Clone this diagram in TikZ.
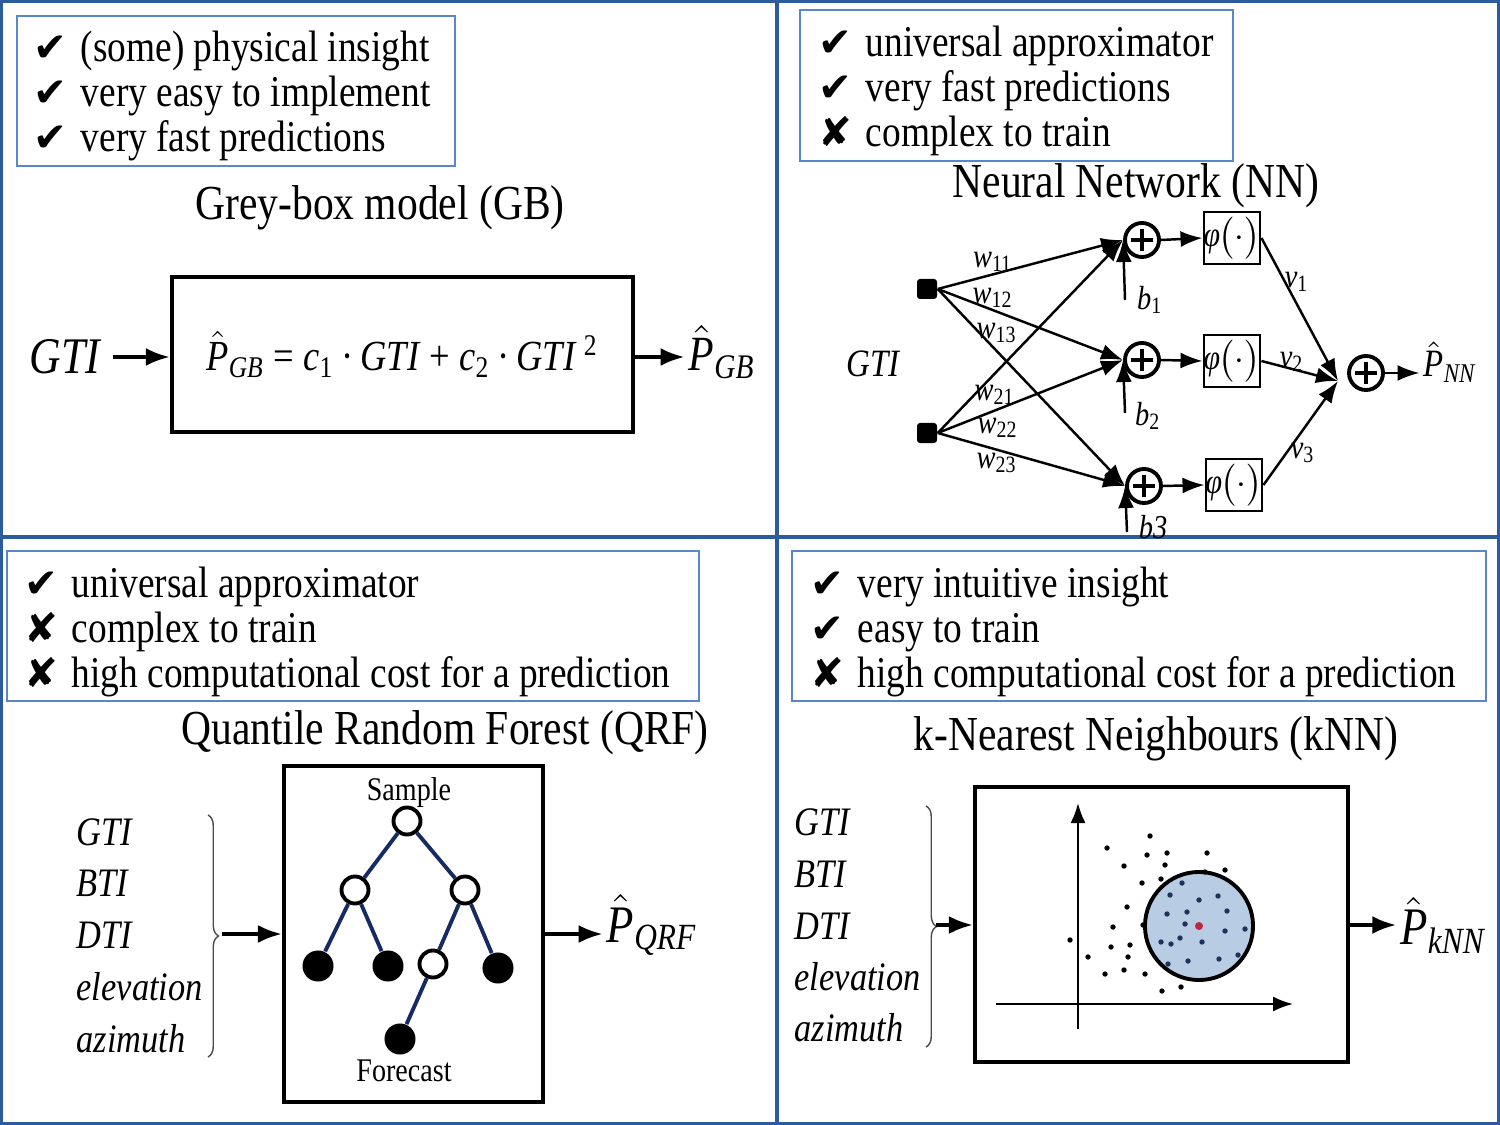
\documentclass[tikz,border=0pt]{standalone}
\usepackage{amsmath}
\usepackage{fontspec}
\setmainfont{Liberation Serif}[FakeStretch=0.85]
\newfontfamily\symfont{DejaVu Sans}
\usetikzlibrary{arrows.meta, positioning, decorations.pathreplacing}

\definecolor{framec}{RGB}{44,92,158}
\definecolor{listc}{RGB}{90,135,200}
\definecolor{treec}{RGB}{22,42,100}
\definecolor{ballc}{RGB}{184,204,228}
\definecolor{dotin}{RGB}{30,50,90}
\definecolor{dotred}{RGB}{190,40,60}

\newcommand{\fs}[2]{\fontsize{#1}{#2}\selectfont}
\newcommand{\pro}{\makebox[13.4pt][l]{\symfont\fs{11.5}{10}✔}}
\newcommand{\con}{\makebox[13.4pt][l]{\symfont\fs{11.5}{10}✘}}
\newcommand{\Phat}[1]{$\hat{\text{\itshape P}}_{\text{\itshape #1}}$}
\newcommand{\wsub}[2]{\textit{#1}$_{\text{#2}}$}

\begin{document}
\begin{tikzpicture}[x=0.01cm, y=-0.01cm,
    frame/.style={draw=framec, line width=0.9pt},
    listbox/.style={draw=listc, line width=0.5pt},
    prolist/.style={align=left, inner sep=0pt, anchor=west, font=\fs{12.5}{12.8}},
    title/.style={inner sep=0pt, font=\fs{13.9}{16}},
    model/.style={draw, line width=1.1pt, inner sep=0pt},
    flow/.style={-{Latex[length=2.4mm,width=1.8mm]}, line width=1.1pt},
    link/.style={-{Latex[length=2.2mm,width=1.6mm]}, line width=0.7pt},
    inlab/.style={anchor=west, inner sep=0pt, font=\fs{11.5}{13}\itshape},
    wlab/.style={inner sep=0pt, font=\fs{9.5}{10}},
    sumnode/.style={circle, draw, line width=1.1pt, minimum size=3.4mm, inner sep=0pt,
      path picture={\draw[line width=1pt]
        ([xshift=0.6mm]path picture bounding box.west) -- ([xshift=-0.6mm]path picture bounding box.east)
        ([yshift=-0.6mm]path picture bounding box.north) -- ([yshift=0.6mm]path picture bounding box.south);}},
    actbox/.style={draw, line width=0.6pt, minimum width=5.6mm, minimum height=5.2mm, inner sep=0pt, font=\fs{10}{11}},
    inbox/.style={fill, rounded corners=0.3mm, minimum size=2mm, inner sep=0pt},
    opennode/.style={circle, draw, fill=white, line width=1.1pt, minimum size=2.7mm, inner sep=0pt},
    leafnode/.style={circle, fill, minimum size=3.1mm, inner sep=0pt},
    branch/.style={draw=treec, line width=1.1pt},
    bracel/.style={decorate, decoration={brace, amplitude=3pt}, line width=0.4pt, draw=black!70},
  ]
\useasboundingbox (0,0) rectangle (1500,1125);

% panels
\draw[frame] (1.5,1.5) rectangle (1498.5,1123.5);
\draw[frame] (0,537) -- (1500,537);
\draw[frame] (777,0) -- (777,1125);

% grey-box model
\draw[listbox] (17,16) rectangle (455,166);
\node[prolist] (listgb) at (33,96) {\pro (some) physical insight\\ \pro very easy to implement\\ \pro very fast predictions};
\node[title] (titgb) at (380,208) {Grey-box model (GB)};
\node[model, minimum width=46.1mm, minimum height=15.5mm, font=\fs{12.2}{14}] (gbbox) at (402.5,354.5)
  {\Phat{GB} = \textit{c}$_{\text{1}}$\,·\,\textit{GTI} + \textit{c}$_{\text{2}}$\,·\,\textit{GTI}\,\textsuperscript{2}};
\node[font=\fs{14.6}{16}\itshape] (gtigb) at (65,357) {GTI};
\node[font=\fs{14}{16}, inner sep=1pt] (pgb) at (722,352) {\Phat{GB}};
\draw[flow] (gtigb.east) -- (gtigb.east -| gbbox.west);
\draw[flow] (gbbox.east |- 0,357) -- (pgb.west |- 0,357);

% neural network
\draw[listbox] (800,10) rectangle (1233,161);
\node[prolist] (listnn) at (818,91) {\pro universal approximator\\ \pro very fast predictions\\ \con complex to train};
\node[title] (titnn) at (1136,186) {Neural Network (NN)};
\node[inbox] (in1) at (927,289) {};
\node[inbox] (in2) at (927,433) {};
\node[font=\fs{11}{12}\itshape] (gtinn) at (873,364) {GTI};
\node[sumnode] (s1) at (1142,240) {};
\node[sumnode] (s2) at (1142,360) {};
\node[sumnode] (s3) at (1144,486) {};
\node[actbox] (f1) at (1232,238) {\textit{φ}\kern-0.5pt$\bigl(\cdot\bigr)$};
\node[actbox] (f2) at (1232,361) {\textit{φ}\kern-0.5pt$\bigl(\cdot\bigr)$};
\node[actbox] (f3) at (1234,485) {\textit{φ}\kern-0.5pt$\bigl(\cdot\bigr)$};
\node[sumnode] (sout) at (1366,373) {};
\coordinate (junc) at (1338,381);
\node[font=\fs{11}{12}, inner sep=1pt] (pnn) at (1450,362) {\Phat{NN}};
\foreach \i in {1,2}
  \foreach \j in {1,2,3}
    \draw[link] (in\i.east) -- (s\j.west);
\coordinate (bc1) at (1125,300);
\coordinate (bc2) at (1125,413);
\coordinate (bc3) at (1127,532);
\foreach \j in {1,2,3} {
  \draw[link] (bc\j) -- (s\j.west);
  \draw[link] (s\j.east) -- (f\j.west);
  \draw[link] (f\j.east) -- (junc);
}
\draw[link] (sout.east) -- (pnn.west |- sout);
\node[wlab] (w11) at (993,262) {\wsub{w}{11}};
\node[wlab] (w12) at (993,298) {\wsub{w}{12}};
\node[wlab] (w13) at (997,333) {\wsub{w}{13}};
\node[wlab] (w21) at (995,395) {\wsub{w}{21}};
\node[wlab] (w22) at (998,428) {\wsub{w}{22}};
\node[wlab] (w23) at (997,463) {\wsub{w}{23}};
\node[wlab] (lb1) at (1150,300) {\wsub{b}{1}};
\node[wlab] (lb2) at (1148,416) {\wsub{b}{2}};
\node[wlab] (lb3) at (1153,527) {\textit{b3}};
\node[wlab] (lv1) at (1297,282) {\wsub{v}{1}};
\node[wlab] (lv2) at (1292,362) {\wsub{v}{2}};
\node[wlab] (lv3) at (1303,453) {\wsub{v}{3}};

% quantile random forest
\draw[listbox] (7,551) rectangle (699,701);
\node[prolist] (listqrf) at (24,632) {\pro universal approximator\\ \con complex to train\\ \con high computational cost for a prediction};
\node[title] (titqrf) at (445,733) {Quantile Random Forest (QRF)};
\node[model, minimum width=25.9mm, minimum height=33.6mm] (qrfbox) at (413.5,934) {};
\node[inlab] (qgti) at (76,832) {GTI};
\node[inlab] (qbti) at (76,883) {BTI};
\node[inlab] (qdti) at (76,935) {DTI};
\node[inlab] (qelev) at (76,987) {elevation};
\node[inlab] (qazim) at (76,1039) {azimuth};
\draw[bracel] (208,815) -- (208,1057);
\coordinate (qbr) at (222,934);
\draw[flow] (qbr) -- (qbr -| qrfbox.west);
\node[font=\fs{15}{18}, inner sep=1pt] (pqrf) at (652,925) {\Phat{QRF}};
\draw[flow] (qrfbox.east |- qbr) -- (pqrf.west |- qbr);
\node[font=\fs{9.4}{10}] (smp) at (409,793) {Sample};
\node[font=\fs{9.4}{10}] (fct) at (404,1071) {Forecast};
\node[opennode] (t0) at (407,821) {};
\node[opennode] (t1) at (355,890) {};
\node[opennode] (t2) at (465,890) {};
\node[leafnode] (t3) at (318,966) {};
\node[leafnode] (t4) at (388,966) {};
\node[opennode] (t5) at (433,964) {};
\node[leafnode] (t6) at (498,968) {};
\node[leafnode] (t7) at (400,1039) {};
\draw[branch] (t0) -- (t1) (t0) -- (t2) (t1) -- (t3) (t1) -- (t4)
  (t2) -- (t5) (t2) -- (t6) (t5) -- (t7);

% k-nearest neighbours
\draw[listbox] (792,551) rectangle (1486,701);
\node[prolist] (listknn) at (810,632) {\pro very intuitive insight\\ \pro easy to train\\ \con high computational cost for a prediction};
\node[title] (titknn) at (1156,739) {k-Nearest Neighbours (kNN)};
\node[model, minimum width=37.3mm, minimum height=27.5mm] (knnbox) at (1161.5,924.5) {};
\node[inlab] (kgti) at (794,822) {GTI};
\node[inlab] (kbti) at (794,874) {BTI};
\node[inlab] (kdti) at (794,926) {DTI};
\node[inlab] (kelev) at (794,977) {elevation};
\node[inlab] (kazim) at (794,1028) {azimuth};
\draw[bracel] (926,806) -- (926,1047);
\coordinate (kbr) at (936,925);
\draw[flow] (kbr) -- (kbr -| knnbox.west);
\node[font=\fs{15}{18}, inner sep=1pt] (pknn) at (1443,925) {\Phat{kNN}};
\draw[flow] (knnbox.east |- kbr) -- (pknn.west |- kbr);
\draw[-{Latex[length=2mm,width=1.5mm]}, line width=0.6pt] (1078,1029) -- (1078,803);
\draw[-{Latex[length=2mm,width=1.5mm]}, line width=0.6pt] (996,1004) -- (1293,1004);
\draw[fill=ballc, line width=1.1pt] (1199,926) circle (5.4mm);
\foreach \p in {(1150,836),(1107,848),(1147,855),(1167,853),(1207,853),(1124,866),(1165,865),
    (1225,870),(1205,872),(1142,883),(1161,879),(1127,907),(1113,927),(1143,925),(1070,940),
    (1111,947),(1130,945),(1088,957),(1128,957),(1105,974),(1124,970),(1145,974),(1162,991),(1181,987)}
  \fill \p circle (0.27mm);
\foreach \p in {(1182,883),(1170,895),(1199,900),(1218,896),(1167,914),(1187,912),(1227,911),
    (1185,924),(1225,931),(1245,929),(1161,942),(1171,944),(1180,938),(1202,942),(1168,964),
    (1188,961),(1219,959),(1238,955)}
  \fill[dotin] \p circle (0.27mm);
\fill[dotred] (1199,926) circle (0.4mm);
\end{tikzpicture}
\end{document}
